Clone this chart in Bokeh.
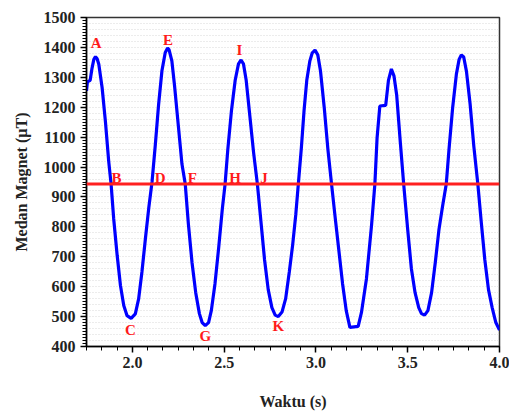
from bokeh.plotting import figure
from bokeh.models import Range1d, SingleIntervalTicker, Grid, Span, ColumnDataSource, PrintfTickFormatter
from bokeh.core.properties import value
from bokeh.embed import file_html
from bokeh.resources import INLINE

# Time (s) and magnetic field (µT)
waktu = [1.750, 1.755, 1.770, 1.780, 1.790, 1.799, 1.808, 1.817, 1.835, 1.853, 1.871, 1.884,
         1.898, 1.917, 1.935, 1.953, 1.971, 1.993, 2.016, 2.034, 2.052, 2.071, 2.089, 2.107,
         2.125, 2.143, 2.161, 2.179, 2.192, 2.200, 2.215, 2.230, 2.250, 2.270, 2.288, 2.305,
         2.325, 2.345, 2.365, 2.380, 2.397, 2.415, 2.430, 2.450, 2.470, 2.490, 2.505, 2.520,
         2.540, 2.560, 2.578, 2.592, 2.605, 2.620, 2.640, 2.660, 2.681, 2.700, 2.720, 2.740,
         2.760, 2.778, 2.795, 2.815, 2.835, 2.855, 2.873, 2.890, 2.904, 2.920, 2.935, 2.950,
         2.967, 2.980, 2.995, 3.010, 3.025, 3.045, 3.065, 3.085, 3.105, 3.125, 3.145, 3.165,
         3.185, 3.230, 3.248, 3.275, 3.303, 3.321, 3.333, 3.348, 3.380, 3.395, 3.411, 3.425,
         3.440, 3.460, 3.478, 3.500, 3.520, 3.540, 3.560, 3.575, 3.592, 3.610, 3.630, 3.650,
         3.670, 3.690, 3.710, 3.725, 3.745, 3.765, 3.780, 3.792, 3.805, 3.820, 3.840, 3.860,
         3.882, 3.900, 3.920, 3.940, 3.960, 3.980, 4.000]
medan = [1255, 1285, 1290, 1330, 1360, 1369, 1362, 1344, 1266, 1153, 1019, 943,
         828, 705, 604, 537, 503, 494, 509, 559, 649, 761, 862, 950,
         1075, 1210, 1322, 1383, 1398, 1392, 1355, 1270, 1140, 1010, 943, 810,
         680, 580, 510, 480, 470, 480, 520, 610, 730, 860, 943, 1060,
         1190, 1290, 1345, 1358, 1345, 1290, 1170, 1050, 943, 820, 690, 590,
         530, 505, 500, 515, 560, 650, 739, 840, 943, 1060, 1187, 1290,
         1355, 1382, 1391, 1375, 1320, 1200, 1060, 943, 830, 720, 610, 520,
         464, 467, 514, 626, 806, 943, 1097, 1204, 1206, 1290, 1328, 1305,
         1240, 1080, 943, 790, 660, 580, 530, 510, 505, 520, 580, 680,
         790, 870, 943, 1060, 1200, 1310, 1360, 1375, 1368, 1320, 1210, 1070,
         943, 820, 690, 590, 530, 480, 455]

garis_acuan = 943  # reference (red) level

label_teks = ["A", "E", "I", "B", "D", "F", "H", "J", "C", "G", "K"]
label_x = [1.803, 2.194, 2.583, 1.913, 2.152, 2.326, 2.560, 2.717, 1.989, 2.397, 2.795]
label_y = [1414, 1425, 1391, 965, 965, 965, 965, 965, 454, 436, 467]

FONT = "Liberation Serif"

p = figure(width=509, height=412, output_backend="svg", toolbar_location=None,
           x_range=Range1d(1.75, 4.0), y_range=Range1d(400, 1500),
           min_border_left=86, min_border_right=10, min_border_top=17, min_border_bottom=60)

p.background_fill_color = "white"
p.border_fill_color = "white"
p.outline_line_color = "#333333"
p.outline_line_width = 1.5

# grids: only dotted horizontal lines
p.xgrid.grid_line_color = None
p.ygrid.grid_line_color = None
g = Grid(dimension=1, ticker=SingleIntervalTicker(interval=20),
         grid_line_color="#d8d8d8", grid_line_dash="1 2", grid_line_width=1)
p.add_layout(g, "center")

p.xaxis.ticker = SingleIntervalTicker(interval=0.5, num_minor_ticks=6)
p.yaxis.ticker = SingleIntervalTicker(interval=100, num_minor_ticks=10)
p.xaxis.formatter = PrintfTickFormatter(format="%.1f")

for ax in (p.xaxis[0], p.yaxis[0]):
    ax.axis_line_color = "black"
    ax.axis_line_width = 1.5
    ax.major_tick_line_color = "black"
    ax.minor_tick_line_color = "black"
    ax.major_tick_line_width = 1.5
    ax.major_tick_in = 0
    ax.major_tick_out = 6
    ax.minor_tick_in = 0
    ax.minor_tick_out = 4
    ax.major_label_text_font = FONT
    ax.major_label_text_font_style = "bold"
    ax.major_label_text_font_size = "16px"
    ax.major_label_text_color = "#222222"
    ax.axis_label_text_font = FONT
    ax.axis_label_text_font_style = "bold"
    ax.axis_label_text_font_size = "16px"
    ax.axis_label_text_color = "#222222"

p.xaxis.axis_label = "Waktu (s)"
p.yaxis.axis_label = "Medan Magnet (µT)"
p.xaxis.major_label_standoff = 4
p.xaxis.axis_label_standoff = 22
p.yaxis.major_label_standoff = 5
p.yaxis.axis_label_standoff = 11

src = ColumnDataSource(dict(x=waktu, y=medan))
p.line("x", "y", source=src, line_color="#0000ff", line_width=3.2)

p.add_layout(Span(location=garis_acuan, dimension="width", line_color="#ff2020", line_width=3))

lab = ColumnDataSource(dict(x=label_x, y=label_y, t=label_teks))
p.text("x", "y", text="t", source=lab, text_color="#ff1a1a", text_font=value(FONT),
       text_font_style="bold", text_font_size="15px", text_align="center",
       text_baseline="middle")

open("out.html", "w").write(file_html(p, INLINE))
